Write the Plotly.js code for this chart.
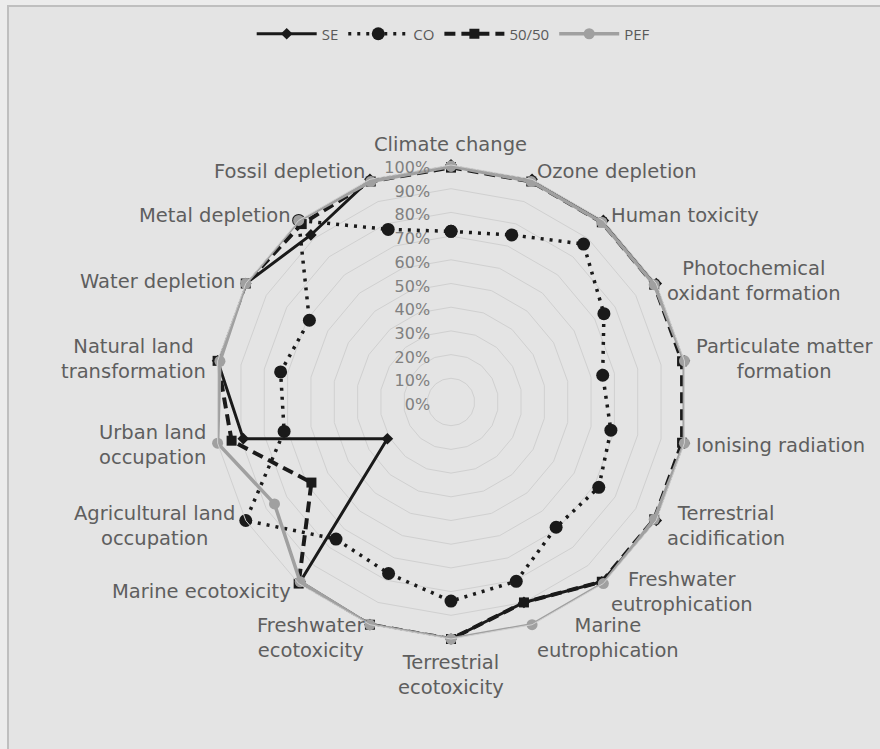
<!DOCTYPE html>
<html>
<head>
<meta charset="utf-8">
<script src="https://cdn.plot.ly/plotly-3.0.1.min.js"></script>
<style>html,body{margin:0;padding:0;background:#ececec;}#chart{width:880px;height:749px;}</style>
</head>
<body>
<div id="chart"></div>
<script>
const categories = [
  "Climate change", "Ozone depletion", "Human toxicity",
  "Photochemical<br>oxidant formation", "Particulate matter<br>formation",
  "Ionising radiation", "Terrestrial<br>acidification",
  "Freshwater<br>eutrophication", "Marine<br>eutrophication",
  "Terrestrial<br>ecotoxicity", "Freshwater<br>ecotoxicity",
  "Marine ecotoxicity", "Agricultural land<br>occupation",
  "Urban land<br>occupation", "Natural land<br>transformation",
  "Water depletion", "Metal depletion", "Fossil depletion"
];
const seriesNames = ["SE", "CO", "50/50", "PEF"];
const SE    = [100, 100, 100, 100, 100, 100, 100, 99, 90, 100, 100, 99, 31, 89, 100, 100, 92, 100];
const CO    = [72, 75, 87, 74.5, 65, 68.5, 72, 69, 80.5, 84, 77, 75.5, 100, 71.5, 73, 69, 100, 77.5];
const FIFTY = [99, 99, 99, 99, 99, 99, 99, 99, 90, 100, 100, 100, 68, 94, 100, 100, 98, 99];
const PEF   = [99.5, 99, 99, 99, 100, 100, 99, 100, 100, 100, 100, 99, 86, 100, 99, 100, 100, 99];
const radialTicks = [0, 10, 20, 30, 40, 50, 60, 70, 80, 90, 100];
const radialTickText = radialTicks.map(v => v + "%");

function closed(a) { return a.concat([a[0]]); }
const theta = closed(categories);

const traces = [
  {name: seriesNames[0], r: closed(SE), theta: theta, type: "scatterpolar", mode: "lines+markers",
   line: {color: "#1a1a1a", width: 3}, marker: {symbol: "diamond", size: 9, color: "#1a1a1a"}},
  {name: seriesNames[1], r: closed(CO), theta: theta, type: "scatterpolar", mode: "lines+markers",
   line: {color: "#1a1a1a", width: 3.5, dash: "3px,6px"}, marker: {symbol: "circle", size: 13, color: "#1a1a1a"}},
  {name: seriesNames[2], r: closed(FIFTY), theta: theta, type: "scatterpolar", mode: "lines+markers",
   line: {color: "#1a1a1a", width: 4, dash: "11px,6px"}, marker: {symbol: "square", size: 10, color: "#1a1a1a"}},
  {name: seriesNames[3], r: closed(PEF), theta: theta, type: "scatterpolar", mode: "lines+markers",
   line: {color: "#a0a0a0", width: 3.5}, marker: {symbol: "circle", size: 11, color: "#a0a0a0"}}
];

const cx = 451, cy = 402, R = 237, W = 880, H = 749, labelR = 248;
const N = categories.length;
const annotations = categories.map((c, i) => {
  const a = i * 2 * Math.PI / N;
  const s = Math.sin(a), co = Math.cos(a);
  const dy = co > 0.2 ? 3 : (co < -0.9 && i !== N / 2 ? 3 : 0);
  const x = cx + labelR * s, y = cy - labelR * co + dy;
  return {
    text: c, xref: "paper", yref: "paper", x: x / W, y: 1 - y / H, showarrow: false,
    xanchor: Math.abs(s) < 0.1 ? "center" : (s > 0 ? "left" : "right"),
    yanchor: i === 0 ? "bottom" : (i === N / 2 ? "top" : "middle"),
    align: "center", borderpad: 0,
    font: {family: "DejaVu Sans, Verdana, sans-serif", size: 19.5, color: "#5e5e5e"}
  };
});

const layout = {
  width: W, height: H,
  margin: {l: 0, r: 0, t: 0, b: 0},
  paper_bgcolor: "#ececec",
  font: {family: "DejaVu Sans, Verdana, sans-serif", color: "#595959"},
  showlegend: true,
  legend: {orientation: "h", x: 0.515, xanchor: "center", y: 1 - 34 / H, yanchor: "middle",
           font: {family: "Open Sans, sans-serif", size: 15, color: "#595959"},
           bgcolor: "rgba(0,0,0,0)", itemwidth: 60},
  annotations: annotations,
  shapes: [{type: "rect", xref: "paper", yref: "paper", x0: 8 / W, x1: 1.02, y0: -0.02, y1: 1 - 6 / H,
            fillcolor: "#e4e4e4", line: {color: "#bfbfbf", width: 2}, layer: "below"}],
  polar: {
    domain: {x: [(cx - R) / W, (cx + R) / W], y: [1 - (cy + R) / H, 1 - (cy - R) / H]},
    bgcolor: "rgba(0,0,0,0)",
    gridshape: "linear",
    angularaxis: {type: "category", direction: "clockwise", rotation: 90,
                  showgrid: false, showline: true, linecolor: "#d0d0d0", linewidth: 1,
                  ticks: "", showticklabels: false},
    radialaxis: {range: [0, 100], angle: 90, tickmode: "array", tickvals: radialTicks, ticktext: radialTickText,
                 showline: false, gridcolor: "#d0d0d0", gridwidth: 1,
                 ticks: "outside", ticklen: 6, tickcolor: "rgba(0,0,0,0)",
                 tickfont: {size: 16, color: "#808080"}, side: "counterclockwise"}
  }
};
Plotly.newPlot("chart", traces, layout, {displayModeBar: false});
</script>
</body>
</html>
